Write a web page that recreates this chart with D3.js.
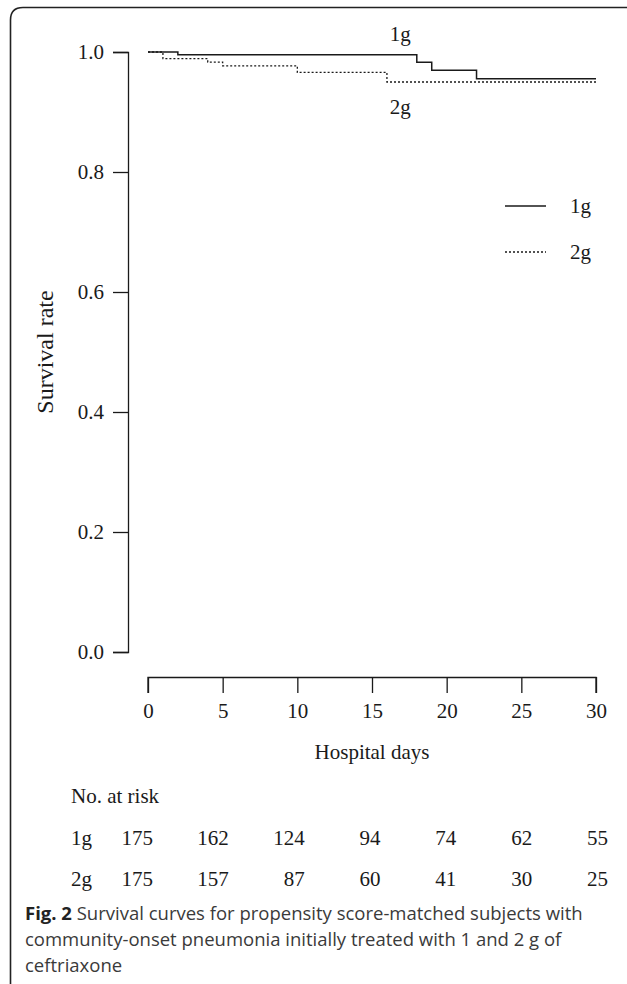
<!DOCTYPE html>
<html>
<head>
<meta charset="utf-8">
<script src="https://cdn.jsdelivr.net/npm/d3@7"></script>
<style>
  body { margin: 0; background: #fff; }
  svg { display: block; }
</style>
</head>
<body>
<svg id="chart" width="627" height="984"></svg>
<script>
// KM step data (day, survival)
const days1g = [0, 2, 18, 19, 22, 30];
const surv1g = [1.0, 0.9955, 0.983, 0.9695, 0.9555, 0.9555];
const days2g = [0, 1, 4, 5, 10, 16, 30];
const surv2g = [1.0, 0.989, 0.983, 0.977, 0.966, 0.950, 0.950];

const xTicks = [0, 5, 10, 15, 20, 25, 30];
const yTicks = [0.0, 0.2, 0.4, 0.6, 0.8, 1.0];

const groups = ["1g", "2g"];
const risk1g = [175, 162, 124, 94, 74, 62, 55];
const risk2g = [175, 157, 87, 60, 41, 30, 25];

const SERIF = "'Liberation Serif', 'Times New Roman', serif";
const FS = 21;
const INK = "#1a1a1a";
const svg = d3.select("#chart");

// frame (rounded top-left, open right/bottom)
svg.append("path")
  .attr("d", "M10.5,984 L10.5,20 Q10.5,7.5 23,7.5 L627,7.5")
  .attr("fill", "none")
  .attr("stroke", "#222")
  .attr("stroke-width", 1.6);

const x = d3.scaleLinear().domain([0, 30]).range([148, 596]);
const y = d3.scaleLinear().domain([0, 1]).range([652, 52]);

// y axis
const yAxis = svg.append("g")
  .attr("transform", "translate(128,0)")
  .call(d3.axisLeft(y).tickValues(yTicks).tickFormat(d3.format(".1f")).tickSize(15).tickPadding(9));
yAxis.select(".domain").attr("d", "M-15,52.5H0.5V652.5H-15").attr("stroke", INK).attr("stroke-width", 1.3);
yAxis.selectAll(".tick line").attr("stroke", INK).attr("stroke-width", 1.3);
yAxis.selectAll("text").attr("font-family", SERIF).attr("font-size", FS).attr("fill", INK);

// x axis
const xAxis = svg.append("g")
  .attr("transform", "translate(0,677)")
  .call(d3.axisBottom(x).tickValues(xTicks).tickSize(16).tickPadding(10));
xAxis.select(".domain").attr("d", "M148,16V0.5H596V16").attr("stroke", INK).attr("stroke-width", 1.3);
xAxis.selectAll(".tick line").attr("stroke", INK).attr("stroke-width", 1.3);
xAxis.selectAll("text").attr("font-family", SERIF).attr("font-size", FS).attr("fill", INK);

svg.append("text")
  .attr("x", 372).attr("y", 759)
  .attr("text-anchor", "middle")
  .attr("font-family", SERIF).attr("font-size", FS).attr("fill", INK)
  .text("Hospital days");

svg.append("text")
  .attr("transform", "translate(53,352) rotate(-90)")
  .attr("text-anchor", "middle")
  .attr("font-family", SERIF).attr("font-size", 24).attr("fill", INK)
  .text("Survival rate");

// curves
const line = d3.line().x(d => x(d[0])).y(d => y(d[1])).curve(d3.curveStepAfter);
svg.append("path")
  .datum(days1g.map((d, i) => [d, surv1g[i]]))
  .attr("d", line)
  .attr("fill", "none").attr("stroke", INK).attr("stroke-width", 1.5);
svg.append("path")
  .datum(days2g.map((d, i) => [d, surv2g[i]]))
  .attr("d", line)
  .attr("fill", "none").attr("stroke", INK).attr("stroke-width", 1.3)
  .attr("stroke-dasharray", "2,2");

// curve labels
svg.append("text").attr("x", x(16.9)).attr("y", 41)
  .attr("text-anchor", "middle")
  .attr("font-family", SERIF).attr("font-size", FS).attr("fill", INK).text("1g");
svg.append("text").attr("x", x(16.9)).attr("y", 114)
  .attr("text-anchor", "middle")
  .attr("font-family", SERIF).attr("font-size", FS).attr("fill", INK).text("2g");

// legend
const legend = svg.append("g");
groups.forEach((g, i) => {
  const ly = 206 + i * 46;
  legend.append("line")
    .attr("x1", 505).attr("x2", 546).attr("y1", ly).attr("y2", ly)
    .attr("stroke", INK).attr("stroke-width", i === 0 ? 1.5 : 1.3)
    .attr("stroke-dasharray", i === 0 ? null : "2,2");
  legend.append("text")
    .attr("x", 570).attr("y", ly + 7)
    .attr("font-family", SERIF).attr("font-size", FS).attr("fill", INK)
    .text(g);
});

// number at risk table
svg.append("text").attr("x", 71).attr("y", 803)
  .attr("font-family", SERIF).attr("font-size", FS).attr("fill", INK)
  .text("No. at risk");

const riskCols = d3.scaleLinear().domain([0, 6]).range([153, 608]);
[risk1g, risk2g].forEach((row, r) => {
  const ry = 845 + r * 41;
  svg.append("text").attr("x", 71).attr("y", ry)
    .attr("font-family", SERIF).attr("font-size", FS).attr("fill", INK)
    .text(groups[r]);
  svg.append("g").selectAll("text")
    .data(row)
    .join("text")
    .attr("x", (d, i) => riskCols(i))
    .attr("y", ry)
    .attr("text-anchor", "end")
    .attr("font-family", SERIF).attr("font-size", FS).attr("fill", INK)
    .text(d => d);
});

// caption
const capLines = [
  ["Fig. 2", " Survival curves for propensity score-matched subjects with"],
  ["", "community-onset pneumonia initially treated with 1 and 2 g of"],
  ["", "ceftriaxone"]
];
const cap = svg.append("g").attr("font-family", "'Open Sans', 'Noto Sans', sans-serif")
  .attr("font-size", 18.5).attr("fill", "#3a3a3a");
capLines.forEach((l, i) => {
  const t = cap.append("text").attr("x", 25).attr("y", 920 + i * 26);
  if (l[0]) t.append("tspan").attr("font-weight", "bold").attr("fill", "#222").text(l[0]);
  t.append("tspan").text(l[1]);
});
</script>
</body>
</html>
